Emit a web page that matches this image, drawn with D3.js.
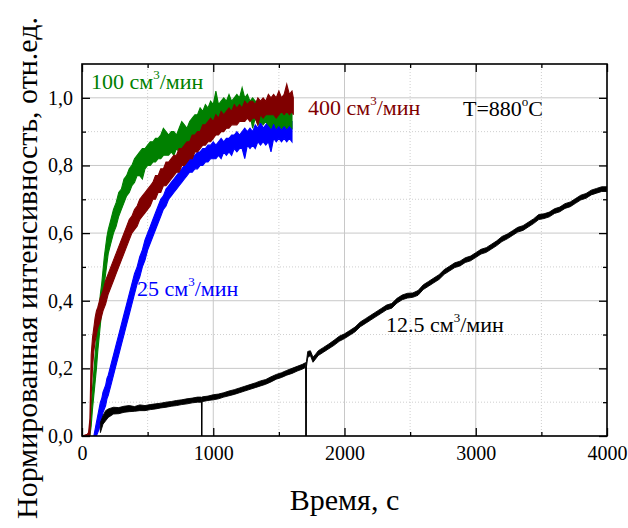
<!DOCTYPE html>
<html><head><meta charset="utf-8">
<script src="https://cdn.jsdelivr.net/npm/d3@7/dist/d3.min.js"></script>
<style>body{margin:0;background:#fff;} text{font-family:"Liberation Serif","Times New Roman",serif;}</style>
</head><body>
<svg id="c" width="628" height="528"></svg>
<script>
// ---------- data (time, s ; normalized intensity: lower / upper edge of the noisy trace) ----------
const xTicksMajor = [0, 1000, 2000, 3000, 4000];
const xTicksMinor = [500, 1500, 2500, 3500];
const yTicksMajor = [0, 0.2, 0.4, 0.6, 0.8, 1.0];
const yTicksMinor = [0.1, 0.3, 0.5, 0.7, 0.9];
const yTickLabels = ["0,0", "0,2", "0,4", "0,6", "0,8", "1,0"];

const timeGreen = [0,50,60,70,80,90,100,110,120,130,140,150,160,170,180,190,200,220,240,260,280,300,320,340,360,380,400,420,440,460,480,500,520,540,560,580,600,620,640,660,680,700,720,740,760,780,800,820,840,860,880,900,920,940,960,980,1000,1020,1040,1060,1080,1100,1120,1140,1160,1180,1200,1220,1240,1260,1280,1300,1320,1340,1360,1380,1400,1420,1440,1460,1480,1500,1520,1540,1560,1580,1600];
const loGreen = [0,0,0,0.03,0.08,0.12,0.16,0.2,0.25,0.29,0.33,0.37,0.41,0.45,0.48,0.51,0.54,0.57,0.6,0.62,0.65,0.67,0.69,0.71,0.72,0.74,0.75,0.77,0.77,0.76,0.79,0.8,0.8,0.81,0.81,0.82,0.82,0.83,0.83,0.83,0.84,0.83,0.85,0.84,0.85,0.85,0.86,0.86,0.87,0.89,0.9,0.88,0.91,0.92,0.92,0.93,0.92,0.93,0.93,0.94,0.93,0.94,0.94,0.94,0.95,0.94,0.95,0.94,0.95,0.94,0.95,0.91,0.94,0.92,0.93,0.92,0.93,0.92,0.91,0.93,0.91,0.92,0.91,0.92,0.91,0.92,0.91];
const hiGreen = [0,0,0.02,0.09,0.14,0.19,0.24,0.29,0.34,0.38,0.42,0.45,0.49,0.53,0.56,0.59,0.61,0.64,0.67,0.69,0.72,0.73,0.76,0.77,0.79,0.8,0.82,0.83,0.84,0.85,0.85,0.86,0.87,0.87,0.88,0.88,0.89,0.91,0.9,0.89,0.9,0.9,0.89,0.91,0.93,0.92,0.91,0.93,0.94,0.95,0.95,0.97,0.96,0.98,0.97,0.99,0.98,1.02,0.98,0.99,1.0,0.99,1.01,0.99,1.0,1.01,1.0,1.03,1.0,1.01,0.99,1.0,0.99,0.99,0.98,0.99,0.98,0.99,0.98,0.99,0.98,0.99,0.98,1.0,0.98,0.99,0.98];

const timeRed = [0,40,50,60,70,80,90,100,110,120,140,160,180,200,220,240,260,280,300,320,340,360,380,400,420,440,460,480,500,520,540,560,580,600,620,640,660,680,700,720,740,760,780,800,820,840,860,880,900,920,940,960,980,1000,1020,1040,1060,1080,1100,1120,1140,1160,1180,1200,1220,1240,1260,1280,1300,1320,1340,1360,1380,1400,1420,1440,1460,1480,1500,1520,1540,1560,1580,1600,1610];
const loRed = [0,0,0,0,0.12,0.2,0.25,0.28,0.3,0.32,0.34,0.37,0.39,0.42,0.44,0.46,0.48,0.5,0.52,0.54,0.56,0.58,0.6,0.61,0.62,0.64,0.65,0.66,0.67,0.68,0.7,0.7,0.72,0.72,0.74,0.74,0.75,0.76,0.77,0.78,0.78,0.8,0.8,0.81,0.82,0.82,0.84,0.84,0.85,0.86,0.86,0.87,0.87,0.88,0.89,0.89,0.9,0.9,0.91,0.91,0.92,0.92,0.92,0.93,0.93,0.93,0.94,0.93,0.94,0.94,0.92,0.95,0.94,0.95,0.95,0.95,0.95,0.94,0.95,0.96,0.95,0.96,0.95,0.96,0.95];
const hiRed = [0,0.005,0.01,0.05,0.24,0.29,0.32,0.35,0.37,0.38,0.41,0.43,0.46,0.48,0.5,0.52,0.54,0.56,0.58,0.6,0.62,0.64,0.65,0.67,0.68,0.7,0.71,0.72,0.73,0.74,0.75,0.77,0.77,0.79,0.79,0.81,0.81,0.82,0.83,0.83,0.85,0.85,0.86,0.87,0.87,0.89,0.89,0.9,0.9,0.92,0.92,0.93,0.94,0.93,0.95,0.94,0.96,0.95,0.96,0.97,0.96,0.98,0.97,0.98,0.97,0.99,0.98,0.99,0.99,0.98,1.0,0.99,1.0,0.99,1.01,1.0,1.01,1.0,1.02,1.0,1.01,1.04,1.01,1.02,1.0];

const timeBlue = [90,100,110,120,130,140,150,160,170,180,190,200,220,240,260,280,300,320,340,360,380,400,420,440,460,480,500,520,540,560,580,600,620,640,660,680,700,720,740,760,780,800,820,840,860,880,900,920,940,960,980,1000,1020,1040,1060,1080,1100,1120,1140,1160,1180,1200,1220,1240,1260,1280,1300,1320,1340,1360,1380,1400,1420,1440,1460,1480,1500,1520,1540,1560,1580,1600];
const loBlue = [0,0,0,0.01,0.02,0.04,0.05,0.07,0.08,0.09,0.11,0.12,0.15,0.18,0.21,0.24,0.27,0.3,0.33,0.36,0.39,0.42,0.45,0.47,0.5,0.52,0.55,0.57,0.59,0.61,0.63,0.65,0.67,0.68,0.7,0.71,0.72,0.73,0.74,0.75,0.76,0.77,0.78,0.78,0.79,0.79,0.8,0.8,0.81,0.81,0.82,0.82,0.82,0.83,0.82,0.84,0.83,0.84,0.83,0.85,0.84,0.85,0.85,0.82,0.86,0.85,0.86,0.85,0.87,0.86,0.87,0.86,0.87,0.84,0.88,0.87,0.88,0.87,0.88,0.87,0.88,0.87];
const hiBlue = [0,0.02,0.04,0.06,0.08,0.1,0.11,0.13,0.14,0.15,0.17,0.18,0.21,0.24,0.27,0.3,0.33,0.36,0.39,0.42,0.45,0.48,0.5,0.53,0.55,0.58,0.6,0.62,0.64,0.66,0.68,0.7,0.71,0.73,0.74,0.75,0.76,0.77,0.78,0.79,0.8,0.81,0.82,0.83,0.83,0.84,0.84,0.85,0.85,0.86,0.86,0.87,0.86,0.87,0.88,0.87,0.88,0.88,0.89,0.89,0.9,0.89,0.9,0.91,0.9,0.91,0.9,0.92,0.91,0.93,0.91,0.92,0.93,0.92,0.93,0.92,0.94,0.93,0.92,0.94,0.93,0.93];

const timeBlack = [140,160,180,200,240,280,320,360,400,440,480,520,560,600,640,680,720,760,800,840,880,910,912,914,920,960,1000,1040,1080,1120,1160,1200,1240,1280,1320,1360,1400,1440,1480,1520,1560,1600,1640,1680,1704,1707,1710,1720,1740,1760,1780,1800,1840,1880,1920,1960,2000,2040,2080,2120,2160,2200,2240,2280,2320,2360,2400,2440,2480,2520,2560,2600,2640,2680,2720,2760,2800,2840,2880,2920,2960,3000,3040,3080,3120,3160,3200,3240,3280,3320,3360,3400,3440,3480,3520,3560,3600,3640,3680,3720,3760,3800,3840,3880,3920,3960,4000];
const loBlack = [0.01,0.035,0.045,0.055,0.065,0.066,0.07,0.072,0.073,0.075,0.075,0.078,0.08,0.083,0.085,0.088,0.09,0.093,0.095,0.098,0.1,0.1,0,0.1,0.102,0.105,0.107,0.11,0.115,0.119,0.123,0.128,0.133,0.138,0.143,0.148,0.153,0.16,0.168,0.173,0.18,0.185,0.192,0.198,0.203,0,0.205,0.232,0.238,0.218,0.228,0.238,0.248,0.258,0.268,0.28,0.288,0.298,0.308,0.323,0.333,0.343,0.353,0.363,0.373,0.378,0.393,0.403,0.408,0.41,0.416,0.433,0.443,0.453,0.463,0.478,0.488,0.498,0.503,0.513,0.518,0.528,0.538,0.543,0.553,0.563,0.575,0.583,0.593,0.603,0.608,0.618,0.628,0.64,0.643,0.648,0.658,0.663,0.673,0.678,0.688,0.698,0.703,0.713,0.718,0.723,0.723];
const hiBlack = [0.04,0.06,0.075,0.08,0.085,0.084,0.088,0.09,0.087,0.092,0.09,0.093,0.095,0.097,0.1,0.102,0.105,0.107,0.11,0.112,0.115,0.115,0,0.115,0.116,0.118,0.122,0.124,0.128,0.133,0.137,0.142,0.147,0.152,0.157,0.163,0.167,0.175,0.182,0.187,0.194,0.2,0.206,0.212,0.217,0,0.22,0.25,0.252,0.233,0.242,0.252,0.262,0.272,0.283,0.295,0.302,0.312,0.322,0.337,0.347,0.357,0.367,0.377,0.387,0.392,0.407,0.417,0.422,0.423,0.43,0.447,0.457,0.467,0.477,0.492,0.502,0.512,0.517,0.527,0.532,0.542,0.552,0.557,0.567,0.577,0.59,0.597,0.607,0.617,0.622,0.632,0.642,0.655,0.657,0.662,0.672,0.677,0.687,0.692,0.702,0.712,0.717,0.727,0.732,0.737,0.737];

const seriesColors = ["#0000ff", "#008000", "#800000", "#000000"];

// ---------- layout ----------
const svg = d3.select("#c");
const W = 628, H = 528;
const m = {left: 82, right: 21, top: 64, bottom: 92};
const x = d3.scaleLinear().domain([0, 4000]).range([m.left, W - m.right]);
const y = d3.scaleLinear().domain([0, 1.1]).range([H - m.bottom, m.top]);

// grid
const g = svg.append("g");
g.selectAll(".gxm").data(xTicksMinor).join("line")
  .attr("x1", d => x(d)).attr("x2", d => x(d)).attr("y1", y(0)).attr("y2", y(1.1))
  .attr("stroke", "#cfcfcf").attr("stroke-width", 1).attr("stroke-dasharray", "1,2");
g.selectAll(".gym").data(yTicksMinor).join("line")
  .attr("x1", x(0)).attr("x2", x(4000)).attr("y1", d => y(d)).attr("y2", d => y(d))
  .attr("stroke", "#cfcfcf").attr("stroke-width", 1).attr("stroke-dasharray", "1,2");
g.selectAll(".gx").data(xTicksMajor).join("line")
  .attr("x1", d => x(d)).attr("x2", d => x(d)).attr("y1", y(0)).attr("y2", y(1.1))
  .attr("stroke", "#c8c8c8").attr("stroke-width", 1);
g.selectAll(".gy").data(yTicksMajor).join("line")
  .attr("x1", x(0)).attr("x2", x(4000)).attr("y1", d => y(d)).attr("y2", d => y(d))
  .attr("stroke", "#c8c8c8").attr("stroke-width", 1);

// clip
svg.append("clipPath").attr("id", "clip").append("rect")
  .attr("x", x(0)).attr("y", y(1.1)).attr("width", x(4000) - x(0)).attr("height", y(0) - y(1.1));

const series = [
  {t: timeBlue, lo: loBlue, hi: hiBlue},
  {t: timeGreen, lo: loGreen, hi: hiGreen},
  {t: timeRed, lo: loRed, hi: hiRed},
  {t: timeBlack, lo: loBlack, hi: hiBlack}
];
const area = d3.area().x(d => x(d.t)).y0(d => y(d.lo)).y1(d => y(d.hi));
const plot = svg.append("g").attr("clip-path", "url(#clip)");
series.forEach((s, i) => {
  const pts = s.t.map((t, j) => ({t: t, lo: s.lo[j], hi: s.hi[j]}));
  plot.append("path").datum(pts).attr("d", area)
    .attr("fill", seriesColors[i]).attr("stroke", seriesColors[i])
    .attr("stroke-width", i === 3 ? 0.9 : 1.1).attr("stroke-linejoin", "miter");
});

// axes
const fs = "20px";
function styleAxis(sel) {
  sel.select(".domain").remove();
  sel.selectAll("line").attr("stroke", "#000").attr("stroke-width", 1.3);
  sel.selectAll("text").attr("font-family", "Liberation Serif").attr("font-size", fs).attr("fill", "#000");
}
svg.append("g").attr("transform", `translate(0,${y(0)})`)
  .call(d3.axisBottom(x).tickValues(xTicksMajor).tickFormat(d3.format("d")).tickSizeInner(-8).tickSizeOuter(0).tickPadding(10)).call(styleAxis);
svg.append("g").attr("transform", `translate(0,${y(0)})`)
  .call(d3.axisBottom(x).tickValues(xTicksMinor).tickFormat("").tickSizeInner(-4).tickSizeOuter(0)).call(styleAxis);
svg.append("g").attr("transform", `translate(0,${y(1.1)})`)
  .call(d3.axisTop(x).tickValues(xTicksMajor).tickFormat("").tickSizeInner(-8).tickSizeOuter(0)).call(styleAxis);
svg.append("g").attr("transform", `translate(0,${y(1.1)})`)
  .call(d3.axisTop(x).tickValues(xTicksMinor).tickFormat("").tickSizeInner(-4).tickSizeOuter(0)).call(styleAxis);
svg.append("g").attr("transform", `translate(${x(0)},0)`)
  .call(d3.axisLeft(y).tickValues(yTicksMajor).tickFormat((d, i) => yTickLabels[i]).tickSizeInner(-8).tickSizeOuter(0).tickPadding(9)).call(styleAxis);
svg.append("g").attr("transform", `translate(${x(0)},0)`)
  .call(d3.axisLeft(y).tickValues(yTicksMinor).tickFormat("").tickSizeInner(-4).tickSizeOuter(0)).call(styleAxis);
svg.append("g").attr("transform", `translate(${x(4000)},0)`)
  .call(d3.axisRight(y).tickValues(yTicksMajor).tickFormat("").tickSizeInner(-8).tickSizeOuter(0)).call(styleAxis);
svg.append("g").attr("transform", `translate(${x(4000)},0)`)
  .call(d3.axisRight(y).tickValues(yTicksMinor).tickFormat("").tickSizeInner(-4).tickSizeOuter(0)).call(styleAxis);

// frame
svg.append("rect").attr("x", x(0)).attr("y", y(1.1)).attr("width", x(4000) - x(0)).attr("height", y(0) - y(1.1))
  .attr("fill", "none").attr("stroke", "#000").attr("stroke-width", 1.6);

// titles
svg.append("text").attr("x", (x(0) + x(4000)) / 2).attr("y", 510).attr("text-anchor", "middle")
  .attr("font-size", "30px").text("Время, с");
svg.append("text").attr("transform", `translate(37,${(y(0)+y(1.1))/2 + 18}) rotate(-90)`).attr("text-anchor", "middle")
  .attr("font-size", "30px").text("Нормированная интенсивность, отн.ед.");

// annotations
function label(px, py, main, color) {
  const t = svg.append("text").attr("x", px).attr("y", py).attr("font-size", "22px").attr("fill", color);
  t.append("tspan").text(main + " см");
  t.append("tspan").attr("font-size", "13px").attr("dy", -10).text("3");
  t.append("tspan").attr("dy", 10).text("/мин");
}
label(91, 89, "100", seriesColors[1]);
label(308, 115, "400", seriesColors[2]);
label(137, 296, "25", seriesColors[0]);
label(386, 332, "12.5", seriesColors[3]);
const tt = svg.append("text").attr("x", 463).attr("y", 116).attr("font-size", "22px").attr("fill", "#000");
tt.append("tspan").text("T=880");
tt.append("tspan").attr("font-size", "13px").attr("dy", -10).text("o");
tt.append("tspan").attr("dy", 10).text("C");
</script>
</body></html>
